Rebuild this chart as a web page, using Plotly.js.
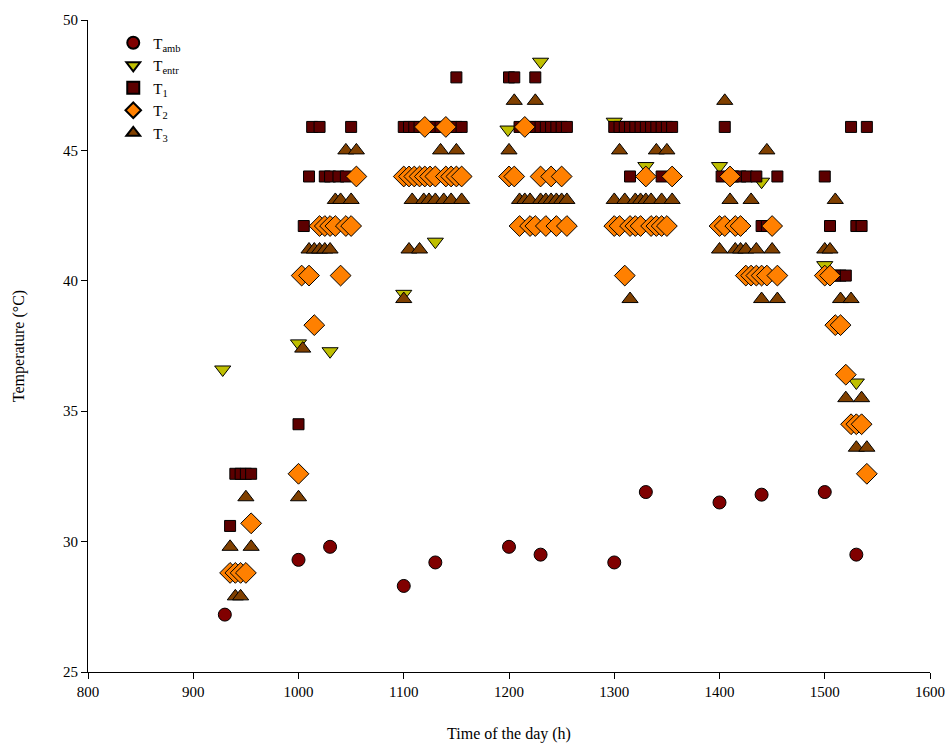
<!DOCTYPE html>
<html>
<head>
<meta charset="utf-8">
<script src="https://cdn.plot.ly/plotly-3.0.1.min.js"></script>
<style>
html,body{margin:0;padding:0;background:#fff;}
#chart{width:945px;height:744px;}
</style>
</head>
<body>
<div id="chart"></div>
<script>
// Ambient temperature
const tambX = [930, 1000, 1030, 1100, 1130, 1200, 1230, 1300, 1330, 1400, 1440, 1500, 1530];
const tambY = [27.2, 29.3, 29.8, 28.3, 29.2, 29.8, 29.5, 29.2, 31.9, 31.5, 31.8, 31.9, 29.5];

// Entrance temperature
const tentrX = [928, 1000, 1030, 1100, 1130, 1199, 1230, 1300, 1330, 1400, 1440, 1500, 1530];
const tentrY = [36.6, 37.6, 37.3, 39.5, 41.5, 45.8, 48.4, 46.1, 44.4, 44.4, 43.8, 40.6, 36.1];

// T1
const t1X = [935, 940, 945, 950, 955,
  1000, 1005,
  1010, 1025, 1030, 1038, 1045,
  1013, 1020, 1050,
  1100, 1105, 1110, 1115, 1120, 1125, 1130, 1135, 1140, 1145, 1150, 1155,
  1150,
  1200, 1205, 1225,
  1210, 1215, 1220, 1225, 1230, 1235, 1240, 1245, 1250, 1255,
  1300, 1305, 1310, 1315, 1320, 1325, 1330, 1335, 1340, 1345, 1350, 1355,
  1315, 1345,
  1405,
  1402, 1413, 1420, 1426, 1435, 1455,
  1420, 1440, 1445,
  1500,
  1505, 1530, 1535,
  1510, 1515, 1520,
  1525, 1540];
const t1Y = [30.6, 32.6, 32.6, 32.6, 32.6,
  34.5, 42.1,
  44.0, 44.0, 44.0, 44.0, 44.0,
  45.9, 45.9, 45.9,
  45.9, 45.9, 45.9, 45.9, 45.9, 45.9, 45.9, 45.9, 45.9, 45.9, 45.9, 45.9,
  47.8,
  47.8, 47.8, 47.8,
  45.9, 45.9, 45.9, 45.9, 45.9, 45.9, 45.9, 45.9, 45.9, 45.9,
  45.9, 45.9, 45.9, 45.9, 45.9, 45.9, 45.9, 45.9, 45.9, 45.9, 45.9, 45.9,
  44.0, 44.0,
  45.9,
  44.0, 44.0, 44.0, 44.0, 44.0, 44.0,
  42.1, 42.1, 42.1,
  44.0,
  42.1, 42.1, 42.1,
  40.2, 40.2, 40.2,
  45.9, 45.9];

// T2
const t2X = [935, 940, 945, 950,
  955, 1000,
  1003, 1010, 1040,
  1015,
  1020, 1025, 1030, 1035, 1045, 1050,
  1055,
  1120, 1140,
  1100, 1105, 1110, 1115, 1120, 1125, 1130, 1140, 1145, 1150, 1155,
  1215,
  1200, 1205, 1230, 1240, 1250,
  1210, 1220, 1225, 1235, 1245, 1255,
  1330, 1355,
  1300, 1305, 1315, 1320, 1325, 1335, 1340, 1345, 1350,
  1310,
  1410,
  1400, 1405, 1415, 1420, 1450,
  1425, 1430, 1435, 1440, 1445, 1455,
  1500, 1505,
  1510, 1515,
  1520,
  1525, 1530, 1535,
  1540];
const t2Y = [28.8, 28.8, 28.8, 28.8,
  30.7, 32.6,
  40.2, 40.2, 40.2,
  38.3,
  42.1, 42.1, 42.1, 42.1, 42.1, 42.1,
  44.0,
  45.9, 45.9,
  44.0, 44.0, 44.0, 44.0, 44.0, 44.0, 44.0, 44.0, 44.0, 44.0, 44.0,
  45.9,
  44.0, 44.0, 44.0, 44.0, 44.0,
  42.1, 42.1, 42.1, 42.1, 42.1, 42.1,
  44.0, 44.0,
  42.1, 42.1, 42.1, 42.1, 42.1, 42.1, 42.1, 42.1, 42.1,
  40.2,
  44.0,
  42.1, 42.1, 42.1, 42.1, 42.1,
  40.2, 40.2, 40.2, 40.2, 40.2, 40.2,
  40.2, 40.2,
  38.3, 38.3,
  36.4,
  34.5, 34.5, 34.5,
  32.6];

// T3
const t3X = [940, 945,
  935, 955,
  950, 1000,
  1004,
  1010, 1015, 1020, 1025, 1030,
  1035, 1040, 1050,
  1045, 1055,
  1100,
  1105, 1115,
  1108, 1119, 1124, 1130, 1138, 1145, 1155,
  1135, 1150,
  1200,
  1205, 1225,
  1210, 1215, 1220, 1230, 1235, 1240, 1245, 1250, 1255,
  1305, 1340, 1350,
  1300, 1310, 1320, 1325, 1330, 1335, 1345, 1355,
  1315,
  1405,
  1445,
  1410, 1430,
  1400, 1415, 1420, 1425, 1435, 1450,
  1440, 1455,
  1510,
  1500, 1505,
  1515, 1525,
  1520, 1535,
  1530, 1540];
const t3Y = [27.9, 27.9,
  29.8, 29.8,
  31.7, 31.7,
  37.4,
  41.2, 41.2, 41.2, 41.2, 41.2,
  43.1, 43.1, 43.1,
  45.0, 45.0,
  39.3,
  41.2, 41.2,
  43.1, 43.1, 43.1, 43.1, 43.1, 43.1, 43.1,
  45.0, 45.0,
  45.0,
  46.9, 46.9,
  43.1, 43.1, 43.1, 43.1, 43.1, 43.1, 43.1, 43.1, 43.1,
  45.0, 45.0, 45.0,
  43.1, 43.1, 43.1, 43.1, 43.1, 43.1, 43.1, 43.1,
  39.3,
  46.9,
  45.0,
  43.1, 43.1,
  41.2, 41.2, 41.2, 41.2, 41.2, 41.2,
  39.3, 39.3,
  43.1,
  41.2, 41.2,
  39.3, 39.3,
  35.5, 35.5,
  33.6, 33.6];

const outline = {color: '#000000', width: 1};
const traces = [
  {x: tambX, y: tambY, name: 'T<sub>amb</sub>', mode: 'markers', type: 'scatter',
   marker: {symbol: 'circle', size: 13, color: '#800000', line: outline}},
  {x: tentrX, y: tentrY, name: 'T<sub>entr</sub>', mode: 'markers', type: 'scatter',
   marker: {symbol: 'triangle-down', size: 14, color: '#bfbf00', line: outline}},
  {x: t1X, y: t1Y, name: 'T<sub>1</sub>', mode: 'markers', type: 'scatter',
   marker: {symbol: 'square', size: 11, color: '#5c0000', line: outline}},
  {x: t2X, y: t2Y, name: 'T<sub>2</sub>', mode: 'markers', type: 'scatter',
   marker: {symbol: 'diamond', size: 16, color: '#ff8000', line: outline}},
  {x: t3X, y: t3Y, name: 'T<sub>3</sub>', mode: 'markers', type: 'scatter',
   marker: {symbol: 'triangle-up', size: 14, color: '#804000', line: outline}}
];

const fontFam = '"Liberation Serif", "Times New Roman", serif';
const layout = {
  width: 945, height: 744,
  margin: {l: 88, r: 15, t: 20, b: 72},
  paper_bgcolor: '#ffffff', plot_bgcolor: '#ffffff',
  font: {family: fontFam, size: 15, color: '#000000'},
  showlegend: true,
  legend: {x: 0.03, y: 0.99, xanchor: 'left', yanchor: 'top',
    bgcolor: 'rgba(0,0,0,0)', font: {family: fontFam, size: 15}, tracegroupgap: 0, itemsizing: 'constant'},
  xaxis: {
    range: [800, 1600], tickvals: [800, 900, 1000, 1100, 1200, 1300, 1400, 1500, 1600],
    showgrid: false, zeroline: false, showline: true, linecolor: '#000', linewidth: 1,
    ticks: 'outside', ticklen: 6, tickcolor: '#000', tickfont: {family: fontFam, size: 15},
    title: {text: 'Time of the day (h)', font: {family: fontFam, size: 16}, standoff: 28}
  },
  yaxis: {
    range: [25, 50], tickvals: [25, 30, 35, 40, 45, 50],
    showgrid: false, zeroline: false, showline: true, linecolor: '#000', linewidth: 1,
    ticks: 'outside', ticklen: 6, tickcolor: '#000', tickfont: {family: fontFam, size: 15},
    title: {text: 'Temperature (°C)', font: {family: fontFam, size: 16}, standoff: 34}
  }
};
Plotly.newPlot('chart', traces, layout, {displayModeBar: false, staticPlot: true});
</script>
</body>
</html>
